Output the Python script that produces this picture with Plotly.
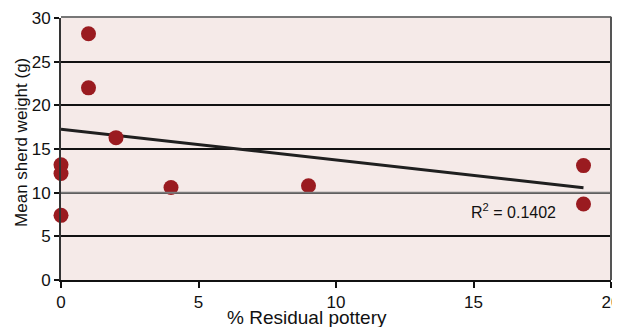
import plotly.graph_objects as go

residual_pct = [0, 0, 0, 1, 1, 2, 4, 9, 19, 19]
sherd_weight = [13.2, 12.2, 7.4, 28.2, 22.0, 16.3, 10.6, 10.8, 13.1, 8.7]
trend_x = [0, 19]
trend_y = [17.27, 10.57]
x_ticks = [0, 5, 10, 15, 20]
y_ticks = [0, 5, 10, 15, 20, 25, 30]
x_title = "% Residual pottery"
y_title = "Mean sherd weight (g)"
r2_label = "R<sup>2</sup> = 0.1402"

font_family = "Liberation Sans"

fig = go.Figure()
fig.add_trace(go.Scatter(x=trend_x, y=trend_y, mode="lines",
                         line=dict(color="#1f1f1f", width=3), hoverinfo="skip"))
fig.add_trace(go.Scatter(x=residual_pct, y=sherd_weight, mode="markers", cliponaxis=False,
                         marker=dict(color="#9a1b20", size=15, line=dict(width=0))))

# gray gridline at 10, gray top/right border
fig.add_shape(type="line", xref="paper", yref="y", x0=0, x1=1, y0=10, y1=10,
              line=dict(color="#7a7a7a", width=2), layer="above")
fig.add_shape(type="line", xref="paper", yref="paper", x0=0, x1=1, y0=1.004, y1=1.004,
              line=dict(color="#777777", width=2), layer="above")
fig.add_shape(type="line", xref="paper", yref="paper", x0=1, x1=1, y0=0, y1=1.005,
              line=dict(color="#555555", width=2), layer="above")

fig.add_annotation(x=14.85, y=7.9, text=r2_label, showarrow=False, xanchor="left",
                   yanchor="middle", font=dict(size=16, color="#111111", family=font_family))
# axis titles
fig.add_annotation(xref="paper", yref="paper", x=0.447, y=-0.145, text=x_title,
                   showarrow=False, xanchor="center", yanchor="middle",
                   font=dict(size=19, color="#111111", family=font_family))
fig.add_annotation(xref="paper", yref="paper", x=-0.071, y=0.527, text=y_title,
                   showarrow=False, xanchor="center", yanchor="middle", textangle=-90,
                   font=dict(size=17, color="#111111", family=font_family))

fig.update_layout(
    width=612, height=319,
    margin=dict(l=53, r=9, t=10, b=47),
    paper_bgcolor="white", plot_bgcolor="#f5eae8",
    showlegend=False,
    font=dict(family=font_family, color="#111111", size=17),
)
fig.update_xaxes(range=[0, 20], tickvals=x_ticks, ticktext=[str(v) for v in x_ticks],
                 automargin=False, ticklabeloverflow="allow",
                 showgrid=False, zeroline=False, showline=True, linecolor="#111111", linewidth=2,
                 ticks="outside", ticklen=6, tickwidth=1.5, tickcolor="#111111",
                 tickfont=dict(size=17, family=font_family))
fig.update_yaxes(range=[0, 30], tickvals=y_ticks, ticktext=[str(v) for v in y_ticks],
                 automargin=False, ticklabeloverflow="allow",
                 showgrid=True, gridcolor="#111111", gridwidth=1.5, zeroline=False,
                 showline=True, linecolor="#333333", linewidth=2,
                 ticks="outside", ticklen=5, tickwidth=1.5, tickcolor="#111111",
                 tickfont=dict(size=17, family=font_family))

fig.write_html("out.html")
